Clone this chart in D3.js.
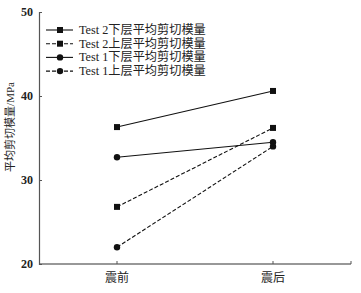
<!DOCTYPE html>
<html>
<head>
<meta charset="utf-8">
<script src="https://cdn.jsdelivr.net/npm/d3@7"></script>
<style>
  body { margin: 0; background: #fff; }
  text { font-family: "Liberation Serif", "Noto Sans CJK SC", serif; }
</style>
</head>
<body>
<div id="chart"></div>
<script>
// data
const categories = ["震前", "震后"];
const seriesNames = ["Test 2下层平均剪切模量", "Test 2上层平均剪切模量", "Test 1下层平均剪切模量", "Test 1上层平均剪切模量"];
const test2Lower = [36.3, 40.6];
const test2Upper = [26.8, 36.2];
const test1Lower = [32.7, 34.5];
const test1Upper = [22.0, 34.0];
const yTicks = [20, 30, 40, 50];

const series = [
    { name: seriesNames[0], values: test2Lower, dashed: false, marker: "square" },
    { name: seriesNames[1], values: test2Upper, dashed: true, marker: "square" },
    { name: seriesNames[2], values: test1Lower, dashed: false, marker: "circle" },
    { name: seriesNames[3], values: test1Upper, dashed: true, marker: "circle" }
];

const margin = { top: 12, right: 10, bottom: 29, left: 39 },
    width = 361 - margin.left - margin.right,
    height = 293 - margin.top - margin.bottom;

const svg = d3.select('#chart')
    .append('svg')
    .attr('width', 361)
    .attr('height', 293)
    .append('g')
    .attr('transform', `translate(${margin.left},${margin.top})`);

const x = d3.scaleBand()
    .domain(categories)
    .range([0, width])
    .padding(0);

const y = d3.scaleLinear()
    .domain([20, 50])
    .range([height, 0]);

const cx = d => x(d) + x.bandwidth() / 2;

// X axis, ticks pointing inward at band centers plus the right end
const xAxis = svg.append('g')
    .attr('transform', `translate(0,${height})`);
xAxis.append('line')
    .attr('x1', 0).attr('x2', width)
    .attr('stroke', '#333').attr('stroke-width', 1.2);
xAxis.selectAll('.xtick')
    .data(categories.map(cx).concat([width]))
    .enter()
    .append('line')
    .attr('x1', d => d).attr('x2', d => d)
    .attr('y1', 0).attr('y2', -3)
    .attr('stroke', '#555');
xAxis.selectAll('.xlabel')
    .data(categories)
    .enter()
    .append('text')
    .attr('x', d => cx(d))
    .attr('y', 18)
    .attr('text-anchor', 'middle')
    .attr('font-size', 12)
    .attr('fill', '#222')
    .text(d => d);

// Y axis, ticks pointing inward
const yAxis = svg.append('g')
    .call(d3.axisLeft(y).tickValues(yTicks).tickSize(-3).tickPadding(6));
yAxis.select('.domain').attr('stroke', '#555').attr('stroke-width', 1.2);
yAxis.selectAll('.tick line').attr('stroke', '#555');
yAxis.selectAll('.tick text')
    .attr('font-size', 12)
    .attr('font-weight', 'bold')
    .attr('fill', '#222')
    .style('font-family', '"Liberation Serif", serif');

svg.append('text')
    .attr('transform', `translate(${-25},${115}) rotate(-90)`)
    .attr('text-anchor', 'middle')
    .attr('font-size', 11)
    .attr('fill', '#222')
    .text('平均剪切模量/MPa');

// draw a marker at (px, py)
function drawMarker(g, type, px, py) {
    if (type === 'square') {
        g.append('rect')
            .attr('x', px - 3).attr('y', py - 3)
            .attr('width', 6).attr('height', 6)
            .attr('fill', '#111');
    } else {
        g.append('circle')
            .attr('cx', px).attr('cy', py)
            .attr('r', 3.2)
            .attr('fill', '#111');
    }
}

const line = d3.line()
    .x((d, i) => cx(categories[i]))
    .y(d => y(d));

series.forEach(s => {
    svg.append('path')
        .datum(s.values)
        .attr('fill', 'none')
        .attr('stroke', '#111')
        .attr('stroke-width', 1.1)
        .attr('stroke-dasharray', s.dashed ? '4,2' : null)
        .attr('d', line);
    const g = svg.append('g');
    s.values.forEach((v, i) => drawMarker(g, s.marker, cx(categories[i]), y(v)));
});

// legend
const legend = svg.append('g').attr('transform', 'translate(7,18)');
series.forEach((s, i) => {
    const row = legend.append('g').attr('transform', `translate(0,${i * 13.7})`);
    row.append('line')
        .attr('x1', 0).attr('x2', 27)
        .attr('stroke', '#111')
        .attr('stroke-width', 1.1)
        .attr('stroke-dasharray', s.dashed ? '4,2' : null);
    drawMarker(row, s.marker, 14, 0);
    row.append('text')
        .attr('x', 33)
        .attr('y', 4)
        .attr('font-size', 12.2)
        .attr('fill', '#222')
        .text(s.name);
});
</script>
</body>
</html>
